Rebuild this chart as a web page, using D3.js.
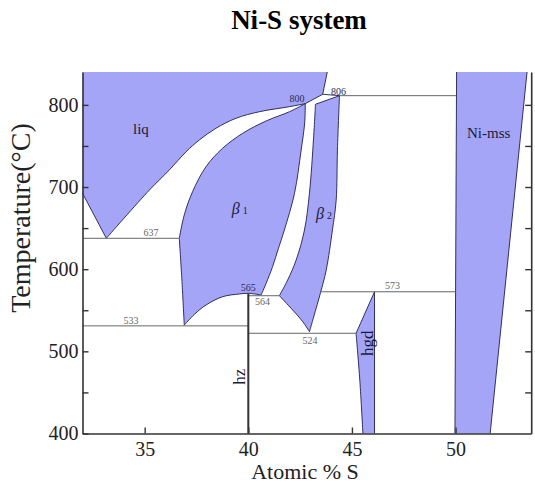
<!DOCTYPE html>
<html>
<head>
<meta charset="utf-8">
<script src="https://cdn.jsdelivr.net/npm/d3@7/dist/d3.min.js"></script>
<style>
  body { margin: 0; background: #fff; }
  text { font-family: "Liberation Serif", "Times New Roman", serif; }
</style>
</head>
<body>
<div id="chart"></div>
<script>
// Ni-S phase boundaries, points are [atomic % S, T in °C]
const liqTop = [[32, 840], [43.81, 840]];
const liqRight = [[43.81, 840], [43.59, 812.9], [42.75, 801.5]];
const liquidus = [[42.75, 801.5], [41.99, 797.8], [40.54, 791.7], [39.41, 783.7], [38.44, 771.5],
  [37.64, 757.3], [37.0, 743], [36.19, 720.8], [35.23, 696.4], [33.15, 637.6]];
const liqNi = [[33.15, 637.6], [32, 692.4]];

const b1Solidus = [[42.75, 801.5], [41.99, 791.7], [40.86, 780.4], [39.73, 765.4], [38.76, 747.2],
  [37.96, 724.8], [37.31, 694.3], [36.91, 666], [36.67, 637.6]];
const b1Left = [[36.67, 637.6], [36.8, 585], [36.91, 532]];
const b1Bottom = [[36.91, 532], [37.4, 545], [37.96, 556.4], [38.76, 566.5], [39.57, 569.8], [40.0, 570.6], [40.62, 568.6]];
const b1Right = [[40.62, 568.6], [40.86, 582.8], [41.17, 603], [41.45, 625], [41.74, 647.7],
  [42.23, 692.4], [42.55, 745], [42.72, 778], [42.75, 801.5]];

const b2Top = [[43.24, 800.7], [44.40, 811.2]];
const b2Right = [[44.40, 811.2], [44.3, 745], [44.24, 684], [44.06, 647.7], [43.76, 599], [43.52, 574.7], [42.95, 523.9]];
const b2Bottom = [[42.95, 523.9], [42.63, 536.1], [42.14, 550.3], [41.5, 567.7]];
const b2Left = [[41.5, 567.7], [41.9, 586.9], [42.31, 611.2], [42.71, 647.7], [42.95, 692.4], [43.15, 760], [43.24, 800.7]];

const hgdEdge = [[45.2, 522], [46.09, 572.5], [46.09, 400]];
const hgdLeft = [[45.53, 400], [45.38, 465], [45.2, 522]];
const mssLeft = [[49.97, 400], [50.05, 840]];
const mssRight = [[53.45, 840], [51.67, 400]];

const liqB2Top = [[43.59, 812.9], [44.40, 811.2]];

// invariant (horizontal) lines
const isoLabel = ["637", "533", "564", "524", "573", "806"];
const isoT = [637.6, 531, 567.7, 522, 572.5, 811.2];
const isoFrom = [32, 32, 40, 40, 43.5, 44.4];
const isoTo = [36.67, 40, 41.5, 45.2, 50.0, 50.02];

// heazlewoodite line compound
const hzX = 40, hzFrom = 400, hzTo = 570.6;

const xTicks = [35, 40, 45, 50];
const yTicks = [400, 450, 500, 550, 600, 650, 700, 750, 800];

const width = 535, height = 483;
const x = d3.scaleLinear().domain([32, 53.65]).range([82.5, 531.2]);
const y = d3.scaleLinear().domain([400, 840]).range([433.5, 72]);

const svg = d3.select("#chart").append("svg")
  .attr("width", width).attr("height", height);

const lin = d3.line().x(d => x(d[0])).y(d => y(d[1]));
const smooth = d3.line().x(d => x(d[0])).y(d => y(d[1])).curve(d3.curveCatmullRom.alpha(0.5));

// join boundary pieces into one closed outline
const outline = parts => parts.map((p, i) => {
  const s = (p.c ? smooth : lin)(p.pts);
  return i ? s.replace(/^M/, "L") : s;
}).join("") + "Z";

const regions = [
  [{pts: liqTop, ns: 1}, {pts: liqRight}, {pts: liquidus, c: 1}, {pts: liqNi}],
  [{pts: b1Solidus, c: 1}, {pts: b1Left, c: 1}, {pts: b1Bottom, c: 1}, {pts: b1Right, c: 1}],
  [{pts: b2Top}, {pts: b2Right, c: 1}, {pts: b2Bottom, c: 1}, {pts: b2Left, c: 1}],
  [{pts: hgdEdge}, {pts: [[46.09, 400], [45.53, 400]], ns: 1}, {pts: hgdLeft, c: 1}],
  [{pts: [[50.05, 840], [53.45, 840]], ns: 1}, {pts: mssRight}, {pts: [[51.67, 400], [49.97, 400]], ns: 1}, {pts: mssLeft}]
];

const fillCol = "#a5a5f7", edgeCol = "#1e1e4e";

svg.append("g").selectAll("path").data(regions).join("path")
  .attr("d", outline)
  .attr("fill", fillCol)
  .attr("stroke", "none");

const edges = regions.flat().filter(p => !p.ns);
edges.push({pts: liqB2Top});
svg.append("g").selectAll("path").data(edges).join("path")
  .attr("d", p => (p.c ? smooth : lin)(p.pts))
  .attr("fill", "none")
  .attr("stroke", edgeCol)
  .attr("stroke-width", 0.9)
  .attr("stroke-linejoin", "round");

// invariant lines
svg.append("g").selectAll("line").data(isoT).join("line")
  .attr("x1", (d, i) => x(isoFrom[i]))
  .attr("x2", (d, i) => x(isoTo[i]))
  .attr("y1", d => y(d))
  .attr("y2", d => y(d))
  .attr("stroke", "#666")
  .attr("stroke-width", 1);

svg.append("line")
  .attr("x1", x(hzX)).attr("x2", x(hzX))
  .attr("y1", y(hzFrom)).attr("y2", y(hzTo))
  .attr("stroke", "#333").attr("stroke-width", 2);

// axes, ticks point inward
const axL = svg.append("g").attr("transform", `translate(${x(32)},0)`)
  .call(d3.axisLeft(y).tickValues(yTicks).tickSizeInner(-6).tickSizeOuter(0).tickPadding(4)
    .tickFormat(d => d % 100 === 0 ? d : ""));
const axR = svg.append("g").attr("transform", `translate(${x(53.65)},0)`)
  .call(d3.axisLeft(y).tickValues(yTicks.slice(1)).tickSize(6).tickSizeOuter(0).tickFormat(""));
const axB = svg.append("g").attr("transform", `translate(0,${y(400)})`)
  .call(d3.axisBottom(x).tickValues(xTicks).tickSizeInner(-6).tickSizeOuter(0).tickPadding(8));

[axL, axR, axB].forEach(a => {
  a.select(".domain").attr("stroke", "#333").attr("stroke-width", 1.6);
  a.selectAll(".tick line").attr("stroke", "#333").attr("stroke-width", 1.4);
  a.selectAll("text").attr("font-family", "Liberation Serif, serif").attr("font-size", 20).attr("fill", "#222");
});

// small temperature labels at invariant points
const pointLabels = [["637", 35.3, 640], ["533", 34.34, 533.3], ["565", 40, 573.4], ["564", 40.69, 556.4],
  ["524", 42.98, 508.9], ["573", 46.96, 575.3], ["800", 42.35, 803.5], ["806", 44.35, 812.2]];
const navyLab = new Set(["565", "800", "806"]);
svg.append("g").selectAll("text").data(pointLabels).join("text")
  .attr("x", d => x(d[1])).attr("y", d => y(d[2]))
  .attr("text-anchor", "middle")
  .attr("font-size", 10)
  .attr("fill", d => navyLab.has(d[0]) ? "#2a2a5a" : "#666")
  .text(d => d[0]);

// phase names
const lbl = svg.append("g").attr("fill", "#1a1a3a");
lbl.append("text").attr("x", x(34.82)).attr("y", y(764.6)).attr("text-anchor", "middle")
  .attr("font-size", 15).text("liq");
lbl.append("text").attr("x", x(51.6)).attr("y", y(759.7)).attr("text-anchor", "middle")
  .attr("font-size", 15).text("Ni-mss");
[["1", 39.2, 667.2], ["2", 43.27, 661]].forEach(([k, cx, ct]) => {
  const t = lbl.append("text").attr("x", x(cx)).attr("y", y(ct));
  t.append("tspan").attr("font-size", 16).attr("font-style", "italic").text("β");
  t.append("tspan").attr("font-size", 10).attr("dx", 3).text(k);
});
[["hz", 39.84, 469.1], ["hgd", 46.02, 510]].forEach(([s, cx, ct]) => {
  lbl.append("text")
    .attr("transform", `translate(${x(cx)},${y(ct)}) rotate(-90)`)
    .attr("text-anchor", "middle")
    .attr("font-size", 17)
    .text(s);
});

// title and axis titles
svg.append("text").attr("x", 299).attr("y", 29).attr("text-anchor", "middle")
  .attr("font-size", 27).attr("font-weight", "bold").attr("fill", "#000").text("Ni-S system");
svg.append("text").attr("transform", "translate(30,218) rotate(-90)").attr("text-anchor", "middle")
  .attr("font-size", 28).attr("fill", "#222").text("Temperature(°C)");
svg.append("text").attr("x", 305).attr("y", 479).attr("text-anchor", "middle")
  .attr("font-size", 22).attr("fill", "#222").text("Atomic % S");
</script>
</body>
</html>
